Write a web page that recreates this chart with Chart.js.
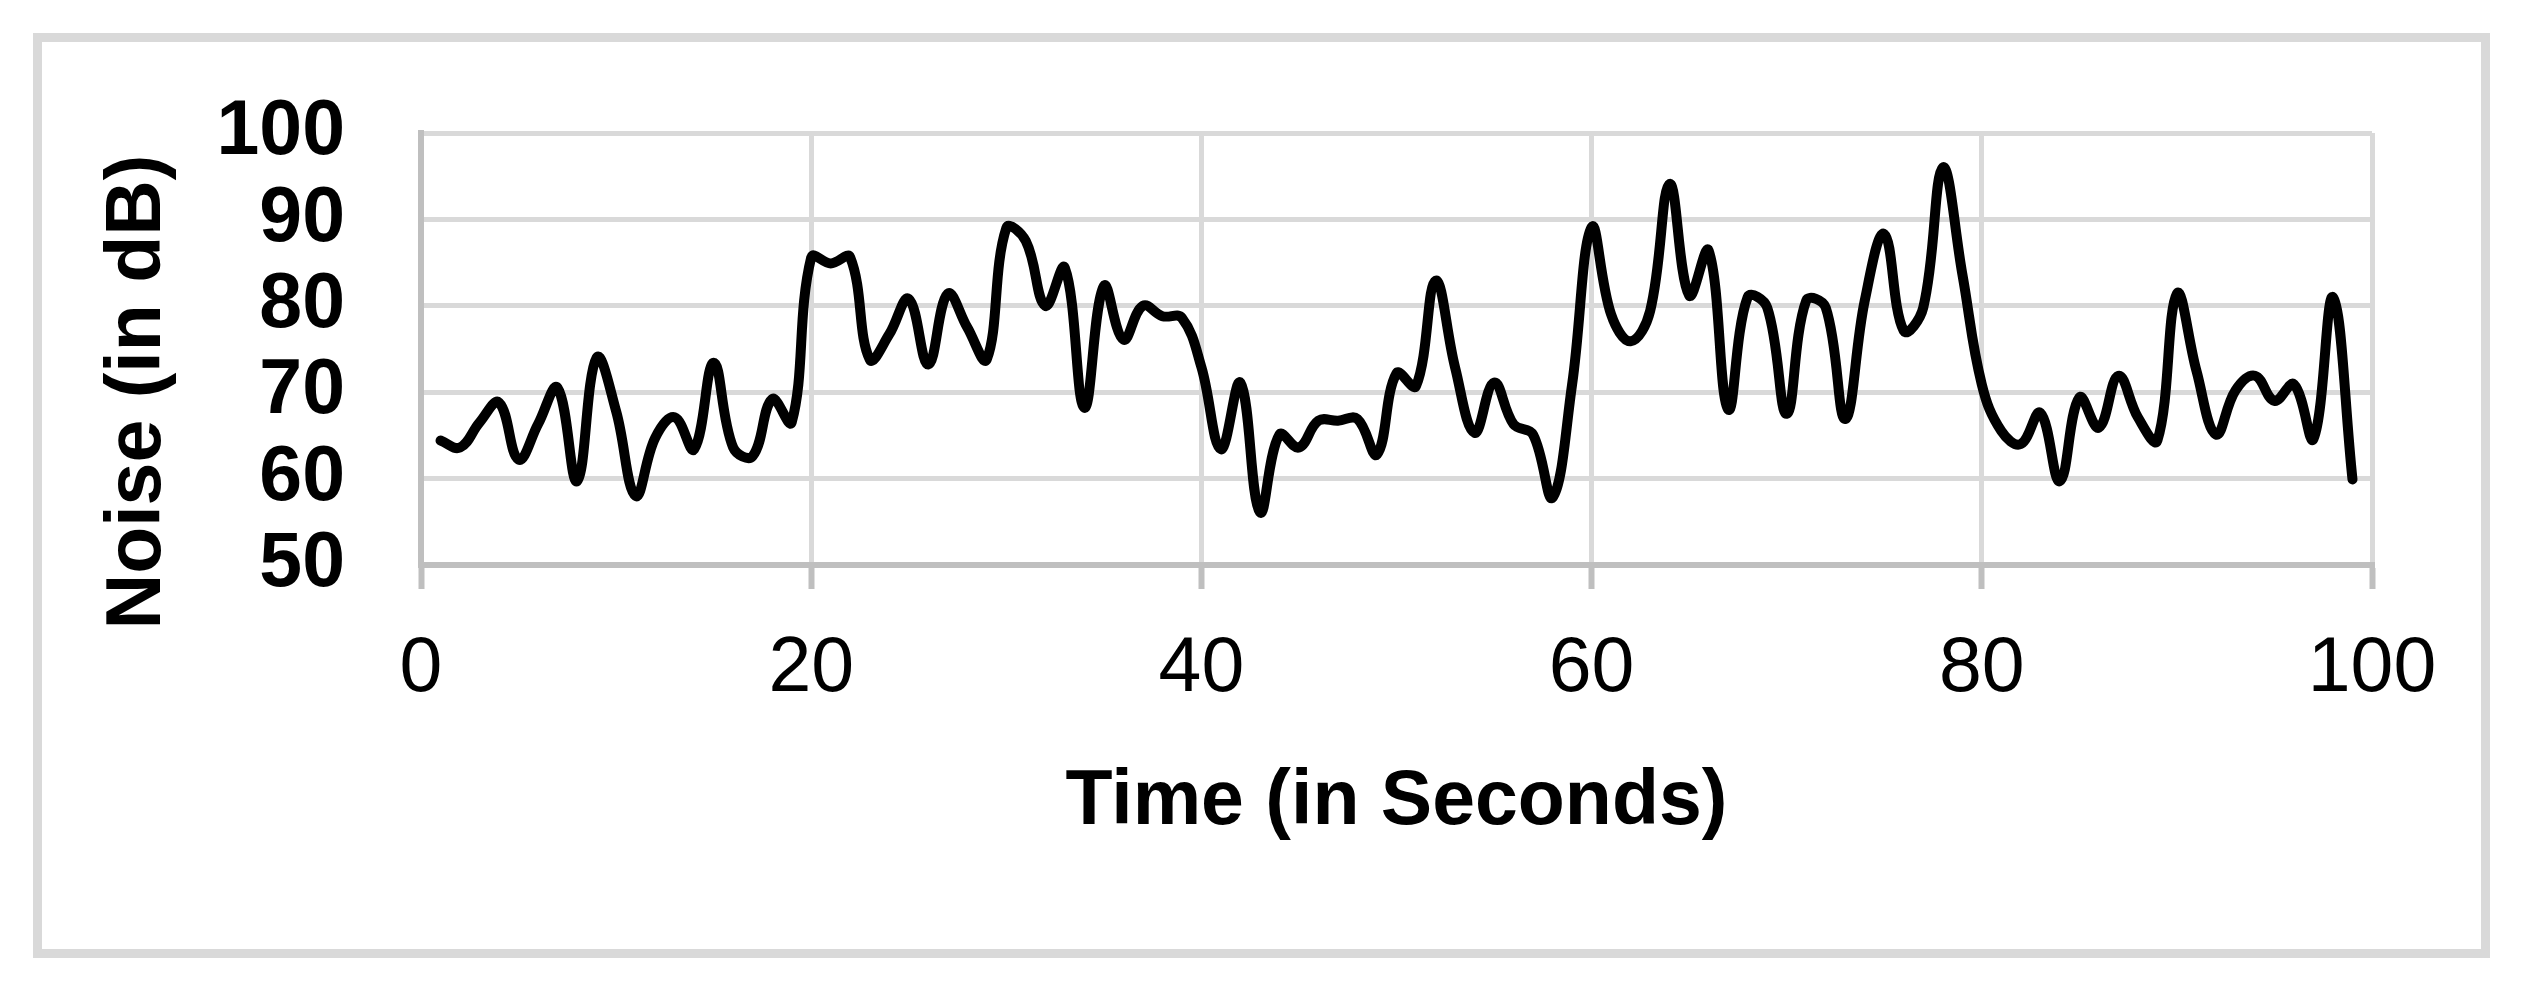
<!DOCTYPE html>
<html>
<head>
<meta charset="utf-8">
<title>Noise over time</title>
<script src="https://cdn.jsdelivr.net/npm/chart.js@4.4.1/dist/chart.umd.min.js"></script>
<style>
  html, body { margin: 0; padding: 0; background: #fff; }
  #frame {
    position: absolute;
    left: 33px;
    top: 33px;
    width: 2457px;
    height: 925px;
    box-sizing: border-box;
    border: 9px solid #d9d9d9;
    background: #fff;
  }
  #noiseChart { display: block; }
</style>
</head>
<body>
<div id="frame">
  <canvas id="noiseChart" width="2439" height="907"></canvas>
</div>
<script>
// seconds on the x axis
var seconds = [
  1, 2, 3, 4, 5, 6, 7, 8, 9, 10,
  11, 12, 13, 14, 15, 16, 17, 18, 19, 20,
  21, 22, 23, 24, 25, 26, 27, 28, 29, 30,
  31, 32, 33, 34, 35, 36, 37, 38, 39, 40,
  41, 42, 43, 44, 45, 46, 47, 48, 49, 50,
  51, 52, 53, 54, 55, 56, 57, 58, 59, 60,
  61, 62, 63, 64, 65, 66, 67, 68, 69, 70,
  71, 72, 73, 74, 75, 76, 77, 78, 79, 80,
  81, 82, 83, 84, 85, 86, 87, 88, 89, 90,
  91, 92, 93, 94, 95, 96, 97, 98, 99
];

// noise level in dB
var noise = [
  64.4, 63.6, 66.5, 68.8, 62.2, 66.3, 70.5, 59.7, 74.0, 67.8,
  58.0, 64.7, 67.1, 63.4, 73.4, 63.6, 62.6, 69.2, 66.5, 85.6,
  84.9, 85.6, 73.8, 76.7, 80.8, 73.2, 81.4, 77.5, 73.8, 89.0,
  87.5, 80.0, 84.4, 68.2, 82.3, 76.1, 80.0, 78.8, 78.6, 72.9,
  63.4, 71.1, 56.1, 65.1, 63.6, 66.7, 66.7, 66.9, 62.8, 72.2,
  70.7, 82.9, 72.9, 65.3, 71.1, 66.3, 65.1, 57.8, 70.9, 89.1,
  79.0, 75.9, 79.4, 94.1, 81.2, 86.4, 68.0, 81.0, 79.8, 67.5,
  80.6, 79.8, 66.9, 80.6, 88.3, 77.1, 79.8, 96.0, 83.7, 70.9,
  65.5, 64.0, 67.6, 59.7, 69.4, 65.9, 71.9, 67.1, 64.4, 81.4,
  72.5, 65.1, 70.2, 71.9, 69.0, 70.9, 64.6, 81.0, 59.9
];

var xTicks = [0, 20, 40, 60, 80, 100];
var yTicks = [50, 60, 70, 80, 90, 100];

var xTitle = 'Time (in Seconds)';
var yTitle = 'Noise (in dB)';

var fontFamily = '"Liberation Sans", Arial, sans-serif';

var points = seconds.map(function (t, i) {
  return { x: t, y: noise[i] };
});

// y title sits a bit below the middle of the plot in the original
var yTitlePlugin = {
  id: 'yTitle',
  afterDraw: function (chart) {
    var ctx = chart.ctx;
    var y = chart.scales.y;
    ctx.save();
    ctx.translate(97, (y.top + y.bottom) / 2 + 43);
    ctx.rotate(-Math.PI / 2);
    ctx.font = 'bold 77px ' + fontFamily;
    ctx.fillStyle = '#000';
    ctx.textAlign = 'center';
    ctx.textBaseline = 'middle';
    ctx.fillText(yTitle, 0, 0);
    ctx.restore();
  }
};

var ctx = document.getElementById('noiseChart').getContext('2d');
var noiseChart = new Chart(ctx, {
  type: 'line',
  data: {
    datasets: [
      {
        label: 'Noise',
        data: points,
        borderColor: '#000',
        borderWidth: 10,
        tension: 0.4,
        fill: false,
        pointRadius: 0,
        borderJoinStyle: 'round',
        borderCapStyle: 'round'
      }
    ]
  },
  options: {
    responsive: false,
    devicePixelRatio: 1,
    animation: false,
    layout: {
      padding: { left: 0, top: 91, right: 109, bottom: 0 }
    },
    scales: {
      x: {
        type: 'linear',
        min: 0,
        max: 100,
        afterBuildTicks: function (scale) {
          scale.ticks = xTicks.map(function (v) { return { value: v }; });
        },
        afterFit: function (scale) {
          scale.height = 384;
        },
        grid: {
          color: '#d9d9d9',
          lineWidth: 5,
          tickLength: 24,
          tickColor: '#bfbfbf',
          tickWidth: 6
        },
        border: {
          color: '#bfbfbf',
          width: 6
        },
        ticks: {
          color: '#000',
          padding: 35,
          maxRotation: 0,
          autoSkip: false,
          font: { family: fontFamily, size: 77, weight: 'normal' }
        },
        title: {
          display: true,
          text: xTitle,
          color: '#000',
          padding: { top: 0, bottom: 100 },
          font: { family: fontFamily, size: 77, weight: 'bold' }
        }
      },
      y: {
        min: 50,
        max: 100,
        afterBuildTicks: function (scale) {
          scale.ticks = yTicks.map(function (v) { return { value: v }; });
        },
        afterFit: function (scale) {
          scale.width = 379;
          // the big tick padding should not push the plot down
          scale.paddingTop = 0;
          scale.paddingBottom = 0;
        },
        grid: {
          color: '#d9d9d9',
          lineWidth: 5,
          drawTicks: false
        },
        border: {
          color: '#bfbfbf',
          width: 6
        },
        ticks: {
          color: '#000',
          padding: 76,
          autoSkip: false,
          font: { family: fontFamily, size: 77, weight: 'bold' }
        }
      }
    },
    plugins: {
      legend: { display: false },
      tooltip: { enabled: false }
    }
  },
  plugins: [yTitlePlugin]
});
</script>
</body>
</html>
